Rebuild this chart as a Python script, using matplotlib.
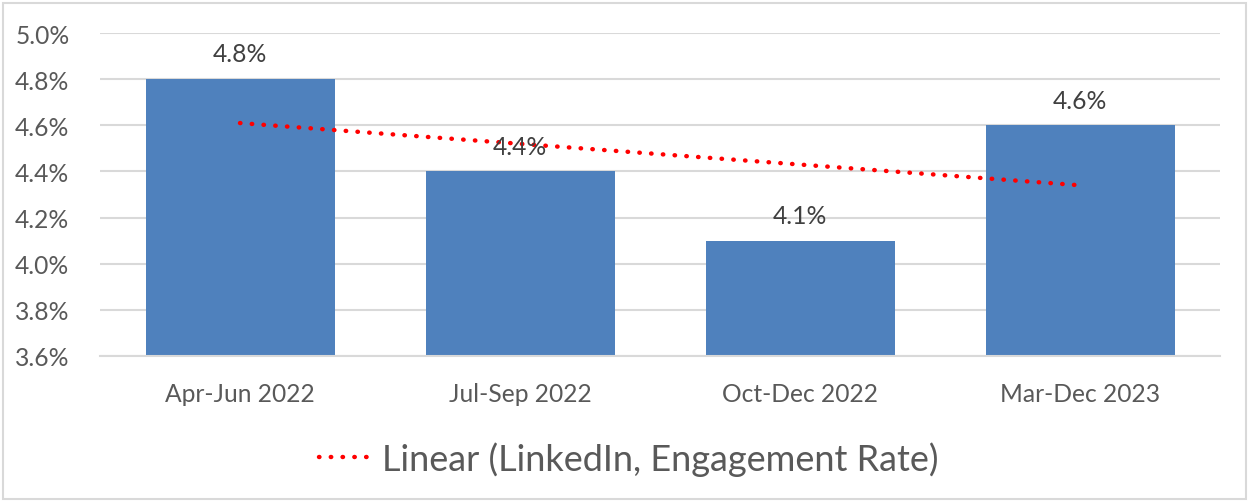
import numpy as np
import matplotlib.pyplot as plt
from matplotlib.patches import Rectangle

# Data
periods = ['Apr-Jun 2022', 'Jul-Sep 2022', 'Oct-Dec 2022', 'Mar-Dec 2023']
engagement = [4.8, 4.4, 4.1, 4.6]
yticks = [3.6, 3.8, 4.0, 4.2, 4.4, 4.6, 4.8, 5.0]

plt.rcParams['font.family'] = ['Lato', 'DejaVu Sans']

fig = plt.figure(figsize=(12.5, 5.02), dpi=100)
ax = fig.add_axes([0.08, 0.289, 0.896, 0.643])

x = np.arange(len(periods))
ax.bar(x, engagement, width=0.675, color='#4f81bd', zorder=2)

# linear trendline (Excel style)
slope, icpt = np.polyfit(x + 1, engagement, 1)
trend = slope * (x + 1) + icpt
ax.plot(x, trend, color='#ff0000', linestyle=(0, (0.1, 2.55)), linewidth=3.2,
        dash_capstyle='round', zorder=3, label='Linear (LinkedIn, Engagement Rate)')

for xi, v in zip(x, engagement):
    ax.text(xi, v + 0.06, f'{v:.1f}%', ha='center', va='bottom',
            fontsize=17.7, color='#404040', zorder=4)

ax.set_xlim(-0.5, 3.5)
ax.set_ylim(3.6, 5.0)
ax.set_yticks(yticks)
ax.set_yticklabels([f'{t:.1f}%' for t in yticks])
ax.set_xticks(x)
ax.set_xticklabels(periods)
ax.tick_params(axis='both', length=0, labelsize=17.7, labelcolor='#595959')
ax.tick_params(axis='x', pad=19)
ax.tick_params(axis='y', pad=22)
ax.grid(axis='y', color='#d9d9d9', linewidth=1.5, zorder=0)
for s in ['top', 'right', 'left']:
    ax.spines[s].set_visible(False)
ax.spines['bottom'].set_color('#d9d9d9')
ax.spines['bottom'].set_linewidth(1.5)

leg = fig.legend(loc='center', bbox_to_anchor=(0.503, 0.085), frameon=False,
                 fontsize=26, handlelength=1.55, handletextpad=0.2)
for t in leg.get_texts():
    t.set_color('#595959')

fig.patches.append(Rectangle((0.002, 0.004), 0.995, 0.988, transform=fig.transFigure,
                             fill=False, edgecolor='#d9d9d9', linewidth=1.5))

fig.savefig('out.png', dpi=100)
